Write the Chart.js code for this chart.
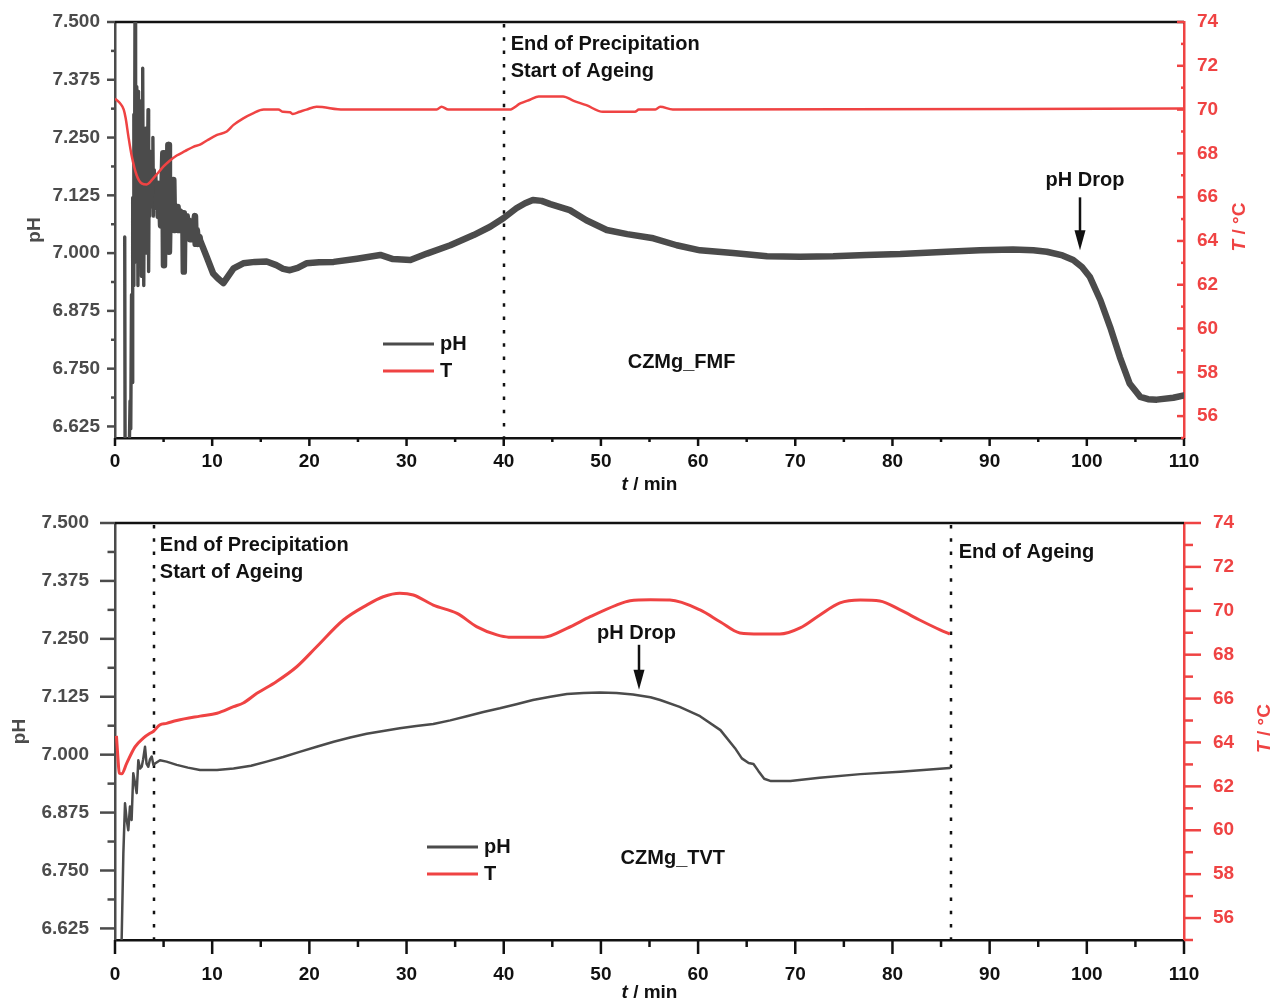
<!DOCTYPE html>
<html>
<head>
<meta charset="utf-8">
<script src="https://cdn.jsdelivr.net/npm/chart.js@4.4.1/dist/chart.umd.min.js"></script>
<style>
  html, body { margin: 0; padding: 0; background: #fff; }
  #wrap { position: relative; width: 1274px; height: 1001px; overflow: hidden; }
  canvas { position: absolute; left: 0; }
  #fmf { top: 0; }
  #tvt { top: 500px; }
</style>
</head>
<body>
<div id="wrap">
  <canvas id="fmf" width="1274" height="500"></canvas>
  <canvas id="tvt" width="1274" height="501"></canvas>
</div>
<script>
// ---- CZMg_FMF run: pH and temperature vs time ----
const fmfPhTime = [1.0, 1.04, 1.45, 1.55, 1.62, 1.70, 1.76, 1.82, 1.88, 1.94, 2.00, 2.06, 2.12, 2.18, 2.24, 2.30, 2.36,
  2.42, 2.48, 2.54, 2.60, 2.66, 2.72, 2.78, 2.85, 2.90, 2.96, 3.02, 3.08, 3.14, 3.20, 3.26, 3.32, 3.40, 3.46, 3.52,
  3.58, 3.66, 3.74, 3.82, 3.90, 3.96, 4.04, 4.12, 4.20, 4.30, 4.40, 4.50, 4.62, 4.74, 4.86, 4.97, 5.04, 5.12, 5.22,
  5.32, 5.42, 5.49, 5.55, 5.64, 5.74, 5.84, 5.94, 6.00, 6.08, 6.20, 6.32, 6.44, 6.56, 6.68, 6.80, 6.92, 7.03, 7.08,
  7.14, 7.26, 7.38, 7.50, 7.62, 7.74, 7.86, 7.98, 8.10, 8.23, 8.30, 8.42, 8.55, 8.70,
  8.75, 9.43, 10.1, 10.6, 11.15, 11.7, 12.2, 13.2, 14.4, 15.6, 16.6, 17.3, 18.0, 18.8, 19.7, 21.0, 22.5, 24.9,
  27.3, 28.6, 30.4, 32.1, 34.5, 36.9, 38.6, 40.0, 41.3, 42.2, 43.0, 43.9, 44.8, 46.8, 48.5, 50.6, 52.7, 55.4,
  57.8, 60.2, 63.6, 67.1, 70.5, 73.9, 77.3, 80.8, 85.6, 89.0, 92.4, 94.5, 95.9, 97.5, 98.6, 99.5, 100.3, 101.4,
  102.4, 103.4, 104.4, 105.5, 106.3, 107.2, 108.9, 110.0];
const fmfPh = [7.035, 6.55, 6.55, 6.68, 6.62, 6.91, 6.72, 7.12, 6.93, 7.30, 7.02, 7.55, 7.10, 7.36, 6.98, 7.34, 6.93,
  7.35, 7.10, 7.33, 7.06, 7.28, 6.95, 7.25, 7.40, 7.12, 6.93, 7.22, 7.05, 7.27, 7.00, 7.24, 7.12, 7.31, 6.96, 7.20,
  7.08, 7.22, 7.10, 7.20, 7.25, 7.08, 7.18, 7.12, 7.17, 7.10, 7.15, 7.08, 7.14, 7.06, 7.12, 7.216, 6.974, 7.14, 7.07,
  7.13, 7.06, 7.234, 7.003, 7.12, 7.07, 7.11, 7.06, 7.158, 7.05, 7.10, 7.06, 7.10, 7.05, 7.09, 7.05, 7.08, 7.086, 6.96,
  7.07, 7.04, 7.08, 7.04, 7.07, 7.03, 7.06, 7.03, 7.06, 7.08, 7.02, 7.05, 7.02, 7.035,
  7.028, 6.992, 6.956, 6.945, 6.935, 6.952, 6.967, 6.978, 6.981, 6.982, 6.974, 6.966, 6.963, 6.968, 6.978, 6.980, 6.981, 6.988,
  6.996, 6.987, 6.985, 6.999, 7.017, 7.039, 7.057, 7.076, 7.097, 7.108, 7.115, 7.113, 7.106, 7.093, 7.071, 7.05, 7.041, 7.032,
  7.017, 7.006, 7.0, 6.993, 6.992, 6.993, 6.996, 6.998, 7.003, 7.006, 7.008, 7.006, 7.003, 6.995, 6.985, 6.97, 6.949, 6.898,
  6.84, 6.775, 6.718, 6.689, 6.684, 6.683, 6.687, 6.692];
const fmfTempTime = [0, 0.5, 0.9, 1.1, 1.37, 1.71, 2.23, 2.74, 3.26, 3.94, 4.5, 4.97, 5.6, 6.35, 7.2, 8.06, 8.75, 9.5,
  10.5, 11.5, 12.2, 13.2, 14.2, 15.3, 16.8, 17.3, 18.0, 18.3, 19.0, 19.7, 20.75, 23.5, 33.1, 33.6, 34.3, 40.6, 41.7,
  42.7, 43.6, 46.1, 47.2, 48.5, 50.2, 53.5, 53.9, 55.6, 56.1, 57.4, 110];
const fmfTemp = [70.5, 70.3, 70.0, 69.6, 68.8, 67.9, 67.0, 66.63, 66.58, 66.86, 67.15, 67.39, 67.65, 67.9, 68.1, 68.3, 68.4, 68.6,
  68.84, 69.0, 69.3, 69.6, 69.83, 70.0, 70.0, 69.9, 69.88, 69.8, 69.9, 70.0, 70.13, 70.0, 70.0, 70.13, 70.0, 70.0, 70.28,
  70.45, 70.6, 70.6, 70.4, 70.2, 69.9, 69.9, 70.0, 70.0, 70.13, 70.0, 70.05];

// ---- CZMg_TVT run ----
const tvtPhTime = [0.6, 0.69, 0.86, 1.03, 1.2, 1.37, 1.54, 1.71, 1.88, 2.05, 2.23, 2.4, 2.57, 2.75, 2.9, 3.09, 3.25, 3.43,
  3.6, 3.78, 3.95, 4.12, 4.63, 5.3, 6.35, 7.5, 8.75, 10.5, 12.2, 14.0, 15.6, 17.3, 19.0, 20.75, 22.5, 24.2, 25.9, 27.6,
  29.3, 31.0, 32.75, 34.5, 36.2, 37.9, 39.6, 41.3, 43.0, 44.8, 46.5, 48.2, 49.9, 51.6, 53.3, 55.1, 56.1, 58.1, 60.2,
  62.3, 63.8, 64.5, 65.2, 65.7, 66.2, 66.8, 67.5, 69.5, 72.5, 76.7, 80.8, 85.9];
const tvtPh = [6.55, 6.607, 6.787, 6.895, 6.86, 6.837, 6.888, 6.859, 6.96, 6.94, 6.917, 6.988, 6.97, 6.974, 6.99, 7.017, 6.98, 6.974,
  6.99, 6.996, 6.978, 6.981, 6.988, 6.985, 6.978, 6.972, 6.967, 6.967, 6.97, 6.976, 6.985, 6.995, 7.006, 7.017, 7.028, 7.037, 7.045, 7.051,
  7.057, 7.062, 7.066, 7.074, 7.083, 7.092, 7.1, 7.109, 7.118, 7.125, 7.131, 7.133, 7.134, 7.133, 7.13, 7.124, 7.118, 7.103, 7.083,
  7.053, 7.014, 6.992, 6.982, 6.98, 6.965, 6.948, 6.943, 6.943, 6.95, 6.958, 6.963, 6.971];
const tvtTempTime = [0.15, 0.3, 0.44, 0.69, 1.2, 2.06, 2.91, 3.6, 3.94, 4.6, 5.3, 6.35, 8.75, 10.5, 12.2, 13.2, 14.6, 16.6,
  18.7, 20.75, 23.5, 25.9, 27.6, 29.3, 30.7, 32.75, 35.2, 37.2, 39.3, 40.5, 44.1, 46.5, 48.9, 51.6, 53.0, 55.1, 57.1,
  60.2, 62.3, 64.3, 66.4, 68.4, 70.5, 72.5, 74.6, 76.7, 78.7, 80.8, 82.8, 84.9, 85.9];
const tvtTemp = [64.3, 63.3, 62.6, 62.57, 63.05, 63.8, 64.2, 64.42, 64.5, 64.8, 64.87, 65.0, 65.2, 65.33, 65.63, 65.8, 66.24, 66.77,
  67.45, 68.36, 69.58, 70.26, 70.64, 70.8, 70.72, 70.26, 69.88, 69.28, 68.9, 68.8, 68.8, 69.2, 69.73, 70.26, 70.46, 70.5, 70.49,
  70.04, 69.49, 68.99, 68.94, 68.94, 69.22, 69.8, 70.36, 70.49, 70.45, 70.04, 69.58, 69.13, 68.94];

// ---- axes ----
const timeTicks = [0, 10, 20, 30, 40, 50, 60, 70, 80, 90, 100, 110];
const timeMinor = [5, 15, 25, 35, 45, 55, 65, 75, 85, 95, 105];
const phTicks = [6.625, 6.75, 6.875, 7.0, 7.125, 7.25, 7.375, 7.5];
const phMinor = [6.6875, 6.8125, 6.9375, 7.0625, 7.1875, 7.3125, 7.4375];
const tempTicks = [56, 58, 60, 62, 64, 66, 68, 70, 72, 74];
const tempMinor = [55, 57, 59, 61, 63, 65, 67, 69, 71, 73];

const FAMILY = '"Liberation Sans", Arial, Helvetica, sans-serif';
const GREY = '#4b4b4b';
const RED = '#ef4343';
const INK = '#111111';

Chart.defaults.font.family = FAMILY;
Chart.defaults.font.weight = 'bold';
Chart.defaults.font.size = 19;
Chart.defaults.animation = false;

// per-panel decoration: tick lengths, event lines, notes, legend spot
const panels = {
  fmf: {
    top: 22, bottomAxis: 62, labelPad: { x: 12.5, left: 15, right: 13 },
    ticks: { x: [8, 4, false], left: [8, 4, false], right: [7, 3, true] },
    phWidth: 6.5, noisyUntil: 4.3, noisyWidth: 3.4, tempWidth: 2.5,
    events: [40],
    eventNotes: [{ at: 40, dx: 7, lines: [['End of Precipitation', 22], ['Start of Ageing', 49]] }],
    drop: { t: 99.3, ph: 7.006, len: 53, textDx: 5, textDy: -17 },
    sample: { text: 'CZMg_FMF', t: 58.3, ph: 6.764 },
    legend: { dx: 268, dy: 322 },
    phTitle: 80, tempTitle: 56, timeTitle: 47
  },
  tvt: {
    top: 23, bottomAxis: 61, labelPad: { x: 23.5, left: 26, right: 29 },
    ticks: { x: [14, 7, false], left: [15, 7.5, false], right: [17, 9, false] },
    phWidth: 2.5, noisyUntil: 0, noisyWidth: 2.5, tempWidth: 3,
    events: [4, 86],
    eventNotes: [
      { at: 4, dx: 6, lines: [['End of Precipitation', 22], ['Start of Ageing', 49]] },
      { at: 86, dx: 8, lines: [['End of Ageing', 29]] }
    ],
    drop: { t: 53.9, ph: 7.14, len: 45, textDx: -2.5, textDy: -11 },
    sample: { text: 'CZMg_TVT', t: 57.4, ph: 6.777 },
    legend: { dx: 312, dy: 324 },
    phTitle: 95, tempTitle: 81, timeTitle: 53
  }
};

function points(xs, ys) {
  return xs.map((x, i) => ({ x: x, y: ys[i] }));
}

function line(ctx, x1, y1, x2, y2) {
  ctx.beginPath();
  ctx.moveTo(x1, y1);
  ctx.lineTo(x2, y2);
  ctx.stroke();
}

function tickMarks(ctx, scale, major, minor, spec, color) {
  const [majorLen, minorLen, inward] = spec;
  ctx.strokeStyle = color;
  ctx.lineWidth = 2.5;
  ctx.setLineDash([]);
  const mark = (v, len) => {
    const p = scale.getPixelForValue(v);
    if (scale.axis === 'x') {
      line(ctx, p, scale.top, p, scale.top + len);
    } else {
      const left = scale.position === 'left';
      const edge = left ? scale.right : scale.left;
      const sign = (left ? -1 : 1) * (inward ? -1 : 1);
      line(ctx, edge, p, edge + sign * len, p);
    }
  };
  major.forEach(v => mark(v, majorLen));
  minor.forEach(v => mark(v, minorLen));
}

// text made of plain and italic runs, centred on (cx, cy)
function richText(ctx, parts, cx, cy, angle, color) {
  ctx.save();
  ctx.translate(cx, cy);
  ctx.rotate(angle);
  ctx.fillStyle = color;
  ctx.textBaseline = 'middle';
  ctx.textAlign = 'left';
  const fonts = parts.map(p => (p[1] ? 'italic ' : '') + 'bold 19px ' + FAMILY);
  let w = 0;
  parts.forEach((p, i) => { ctx.font = fonts[i]; w += ctx.measureText(p[0]).width; });
  let x = -w / 2;
  parts.forEach((p, i) => {
    ctx.font = fonts[i];
    ctx.fillText(p[0], x, 0);
    x += ctx.measureText(p[0]).width;
  });
  ctx.restore();
}

const decor = {
  id: 'decor',
  beforeDatasetsDraw(chart) {
    const cfg = panels[chart.canvas.id];
    const ctx = chart.ctx;
    const area = chart.chartArea;
    const { x, y, yT } = chart.scales;
    ctx.save();
    ctx.strokeStyle = INK;
    ctx.lineWidth = 2.5;
    line(ctx, area.left, area.top, area.right, area.top);
    tickMarks(ctx, x, timeTicks, timeMinor, cfg.ticks.x, INK);
    tickMarks(ctx, y, phTicks, phMinor, cfg.ticks.left, GREY);
    tickMarks(ctx, yT, tempTicks, tempMinor, cfg.ticks.right, RED);

    // dotted event markers
    ctx.strokeStyle = INK;
    ctx.lineWidth = 2.5;
    ctx.setLineDash([3.5, 9.8]);
    cfg.events.forEach(t => {
      const px = Math.round(x.getPixelForValue(t));
      line(ctx, px, area.top + 2, px, area.bottom);
    });
    ctx.restore();
  },
  afterDraw(chart) {
    const cfg = panels[chart.canvas.id];
    const ctx = chart.ctx;
    const area = chart.chartArea;
    const { x, y } = chart.scales;
    const midY = (area.top + area.bottom) / 2;
    ctx.save();

    // axis titles
    richText(ctx, [['pH', false]], area.left - cfg.phTitle, midY, -Math.PI / 2, GREY);
    richText(ctx, [['T', true], [' / \u00B0C', false]], area.right + cfg.tempTitle, midY - 3, -Math.PI / 2, RED);
    richText(ctx, [['t', true], [' / min', false]], (area.left + area.right) / 2, area.bottom + cfg.timeTitle, 0, INK);

    // notes next to event markers
    ctx.fillStyle = INK;
    ctx.font = 'bold 20px ' + FAMILY;
    ctx.textBaseline = 'middle';
    ctx.textAlign = 'left';
    cfg.eventNotes.forEach(n => {
      const px = x.getPixelForValue(n.at) + n.dx;
      n.lines.forEach(([txt, dy]) => ctx.fillText(txt, px, area.top + dy));
    });

    // pH drop arrow
    const d = cfg.drop;
    const ax = Math.round(x.getPixelForValue(d.t));
    const tip = y.getPixelForValue(d.ph);
    ctx.strokeStyle = INK;
    ctx.lineWidth = 2.5;
    line(ctx, ax, tip - d.len, ax, tip - 14);
    ctx.beginPath();
    ctx.moveTo(ax - 5.5, tip - 20);
    ctx.lineTo(ax + 5.5, tip - 20);
    ctx.lineTo(ax, tip);
    ctx.closePath();
    ctx.fill();
    ctx.textAlign = 'center';
    ctx.fillText('pH Drop', ax + d.textDx, tip - d.len + d.textDy);

    // sample name
    ctx.fillText(cfg.sample.text, x.getPixelForValue(cfg.sample.t), y.getPixelForValue(cfg.sample.ph));

    // legend
    const lx = area.left + cfg.legend.dx;
    const ly = area.top + cfg.legend.dy;
    chart.data.datasets.slice().sort((a, b) => b.order - a.order).forEach((ds, i) => {
      const yy = ly + i * 27;
      ctx.strokeStyle = ds.borderColor;
      ctx.lineWidth = 3;
      line(ctx, lx, yy, lx + 51, yy);
      ctx.textAlign = 'left';
      ctx.fillStyle = INK;
      ctx.fillText(ds.label, lx + 57, yy);
    });
    ctx.restore();
  }
};

function makePanel(id, phT, ph, tT, temp) {
  const cfg = panels[id];
  // fixed axis thickness so the plot area lands where it should
  const fixed = (size) => function (scale) {
    if (scale.isHorizontal()) {
      scale.height = size;
      scale.paddingLeft = 0;
      scale.paddingRight = 0;
    } else {
      scale.width = size;
      scale.paddingTop = 0;
      scale.paddingBottom = 0;
    }
  };
  const axisGrid = { display: false, drawTicks: false };
  return new Chart(document.getElementById(id), {
    type: 'line',
    data: {
      datasets: [
        {
          label: 'pH', data: points(phT, ph), yAxisID: 'y', order: 1,
          borderColor: GREY, borderWidth: cfg.phWidth, pointRadius: 0,
          borderJoinStyle: 'round', borderCapStyle: 'round', clip: 0,
          segment: {
            borderWidth: c => (c.p1.parsed.x <= cfg.noisyUntil ? cfg.noisyWidth : undefined)
          }
        },
        {
          label: 'T', data: points(tT, temp), yAxisID: 'yT', order: 0,
          borderColor: RED, borderWidth: cfg.tempWidth, pointRadius: 0,
          borderJoinStyle: 'round', clip: 0, cubicInterpolationMode: 'monotone'
        }
      ]
    },
    options: {
      responsive: false,
      animation: false,
      layout: { padding: { top: cfg.top, left: 0, right: 0, bottom: 0 } },
      plugins: { legend: { display: false }, tooltip: { enabled: false } },
      elements: { line: { tension: 0 } },
      scales: {
        x: {
          type: 'linear', position: 'bottom', min: 0, max: 110,
          afterBuildTicks: s => { s.ticks = timeTicks.map(v => ({ value: v })); },
          afterFit: fixed(cfg.bottomAxis),
          grid: axisGrid,
          border: { display: true, color: INK, width: 2.5 },
          ticks: { color: INK, padding: cfg.labelPad.x, maxRotation: 0, autoSkip: false }
        },
        y: {
          type: 'linear', position: 'left', min: 6.6, max: 7.5,
          afterBuildTicks: s => { s.ticks = phTicks.map(v => ({ value: v })); },
          afterFit: fixed(115),
          grid: axisGrid,
          border: { display: true, color: GREY, width: 2.5 },
          ticks: { color: GREY, padding: cfg.labelPad.left, callback: v => v.toFixed(3) }
        },
        yT: {
          type: 'linear', position: 'right', min: 55, max: 74,
          afterBuildTicks: s => { s.ticks = tempTicks.map(v => ({ value: v })); },
          afterFit: fixed(90),
          grid: axisGrid,
          border: { display: true, color: RED, width: 2.5 },
          ticks: { color: RED, padding: cfg.labelPad.right }
        }
      }
    },
    plugins: [decor]
  });
}

makePanel('fmf', fmfPhTime, fmfPh, fmfTempTime, fmfTemp);
makePanel('tvt', tvtPhTime, tvtPh, tvtTempTime, tvtTemp);
</script>
</body>
</html>
